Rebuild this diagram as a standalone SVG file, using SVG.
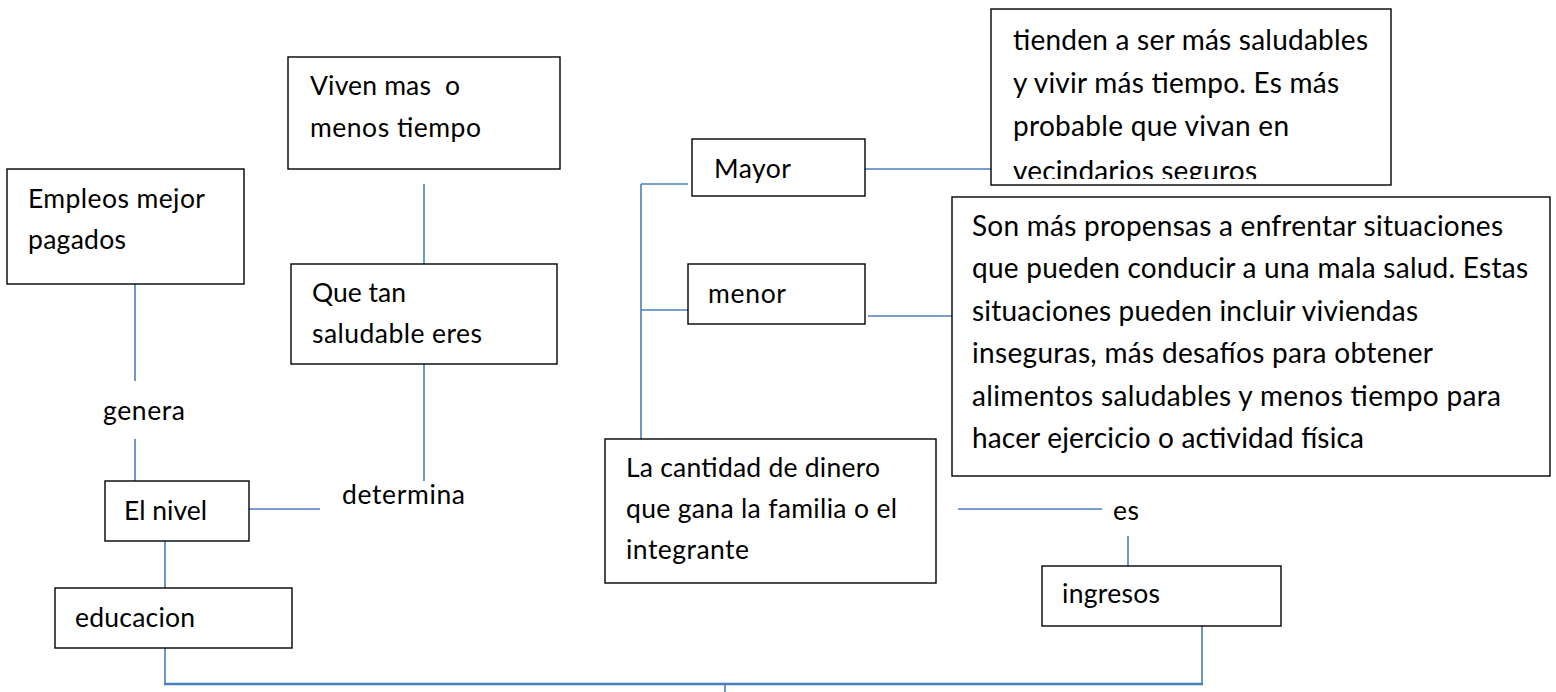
<svg xmlns="http://www.w3.org/2000/svg" width="1556" height="692" viewBox="0 0 1556 692">
<style>
.box{fill:#fff;stroke:#000;stroke-width:1.4}
.t{font-family:Lato,"Liberation Sans",sans-serif;font-size:26.5px;fill:#000}
.tl{font-family:Lato,"Liberation Sans",sans-serif;font-size:28px;fill:#000}
.c{stroke:#4a7ebb;stroke-width:1.6;fill:none}
.cb{stroke:#4a7ebb;stroke-width:2.6;fill:none}
</style>
<defs>
<clipPath id="clipTop"><rect x="991" y="9" width="400" height="170"/></clipPath>
</defs>
<rect width="1556" height="692" fill="#fff"/>
<g id="connectors">
<line class="c" x1="424" y1="184" x2="424" y2="264"/>
<line class="c" x1="424" y1="364" x2="424" y2="481"/>
<line class="c" x1="135" y1="284" x2="135" y2="381"/>
<line class="c" x1="135" y1="439" x2="135" y2="481"/>
<line class="c" x1="249" y1="509" x2="320" y2="509"/>
<line class="c" x1="165" y1="541" x2="165" y2="588"/>
<line class="c" x1="165" y1="648" x2="165" y2="684"/>
<line class="cb" x1="164" y1="684" x2="1203" y2="684"/>
<line class="c" x1="725" y1="684" x2="725" y2="692"/>
<line class="c" x1="1202" y1="626" x2="1202" y2="684"/>
<line class="c" x1="958" y1="509" x2="1102" y2="509"/>
<line class="c" x1="1128" y1="536" x2="1128" y2="566"/>
<line class="c" x1="641" y1="184" x2="641" y2="439"/>
<line class="c" x1="641" y1="184" x2="688" y2="184"/>
<line class="c" x1="641" y1="310" x2="688" y2="310"/>
<line class="c" x1="865" y1="169" x2="991" y2="169"/>
<line class="c" x1="868" y1="316" x2="952" y2="316"/>
</g>
<g id="n-viven">
<rect class="box" x="288" y="57" width="272" height="112"/>
<text class="t" x="310" y="95" style="white-space:pre" xml:space="preserve" textLength="150" lengthAdjust="spacing">Viven mas  o</text>
<text class="t" x="310" y="137" textLength="171" lengthAdjust="spacing">menos tiempo</text>
</g>
<g id="n-empleos">
<rect class="box" x="7" y="169" width="237" height="115"/>
<text class="t" x="28" y="208" textLength="177" lengthAdjust="spacing">Empleos mejor</text>
<text class="t" x="28" y="249" textLength="98" lengthAdjust="spacing">pagados</text>
</g>
<g id="n-quetan">
<rect class="box" x="291" y="264" width="266" height="100"/>
<text class="t" x="312" y="302" textLength="94" lengthAdjust="spacing">Que tan</text>
<text class="t" x="312" y="343" textLength="170" lengthAdjust="spacing">saludable eres</text>
</g>
<g id="n-genera">
<text class="t" x="103" y="420" textLength="82" lengthAdjust="spacing">genera</text>
</g>
<g id="n-determina">
<text class="t" x="342" y="504" textLength="123" lengthAdjust="spacing">determina</text>
</g>
<g id="n-elnivel">
<rect class="box" x="105" y="481" width="144" height="60"/>
<text class="t" x="124" y="520" textLength="83" lengthAdjust="spacing">El nivel</text>
</g>
<g id="n-educacion">
<rect class="box" x="55" y="588" width="237" height="60"/>
<text class="t" x="75" y="627" textLength="120" lengthAdjust="spacing">educacion</text>
</g>
<g id="n-mayor">
<rect class="box" x="692" y="139" width="173" height="57"/>
<text class="t" x="714" y="178" textLength="77" lengthAdjust="spacing">Mayor</text>
</g>
<g id="n-menor">
<rect class="box" x="688" y="264" width="177" height="60"/>
<text class="t" x="708" y="303" textLength="78" lengthAdjust="spacing">menor</text>
</g>
<g id="n-tienden">
<rect class="box" x="991" y="9" width="400" height="176"/>
<g clip-path="url(#clipTop)">
<text class="tl" x="1013" y="50" textLength="355" lengthAdjust="spacing">tienden a ser más saludables</text>
<text class="tl" x="1013" y="93" textLength="326" lengthAdjust="spacing">y vivir más tiempo. Es más</text>
<text class="tl" x="1013" y="136" textLength="276" lengthAdjust="spacing">probable que vivan en</text>
<text class="tl" x="1013" y="181" textLength="244" lengthAdjust="spacing">vecindarios seguros</text>
</g>
</g>
<g id="n-propensas">
<rect class="box" x="952" y="197" width="598" height="279"/>
<text class="tl" x="972" y="236" textLength="531" lengthAdjust="spacing">Son más propensas a enfrentar situaciones</text>
<text class="tl" x="972" y="278" textLength="556" lengthAdjust="spacing">que pueden conducir a una mala salud. Estas</text>
<text class="tl" x="972" y="321" textLength="446" lengthAdjust="spacing">situaciones pueden incluir viviendas</text>
<text class="tl" x="972" y="363" textLength="461" lengthAdjust="spacing">inseguras, más desafíos para obtener</text>
<text class="tl" x="972" y="406" textLength="529" lengthAdjust="spacing">alimentos saludables y menos tiempo para</text>
<text class="tl" x="972" y="448" textLength="392" lengthAdjust="spacing">hacer ejercicio o actividad física</text>
</g>
<g id="n-dinero">
<rect class="box" x="605" y="439" width="331" height="144"/>
<text class="t" x="626" y="477" textLength="254" lengthAdjust="spacing">La cantidad de dinero</text>
<text class="t" x="626" y="518" textLength="271" lengthAdjust="spacing">que gana la familia o el</text>
<text class="t" x="626" y="559" textLength="123" lengthAdjust="spacing">integrante</text>
</g>
<g id="n-es">
<text class="t" x="1113" y="520" textLength="26" lengthAdjust="spacing">es</text>
</g>
<g id="n-ingresos">
<rect class="box" x="1042" y="566" width="239" height="60"/>
<text class="t" x="1062" y="603" textLength="98" lengthAdjust="spacing">ingresos</text>
</g>
</svg>
